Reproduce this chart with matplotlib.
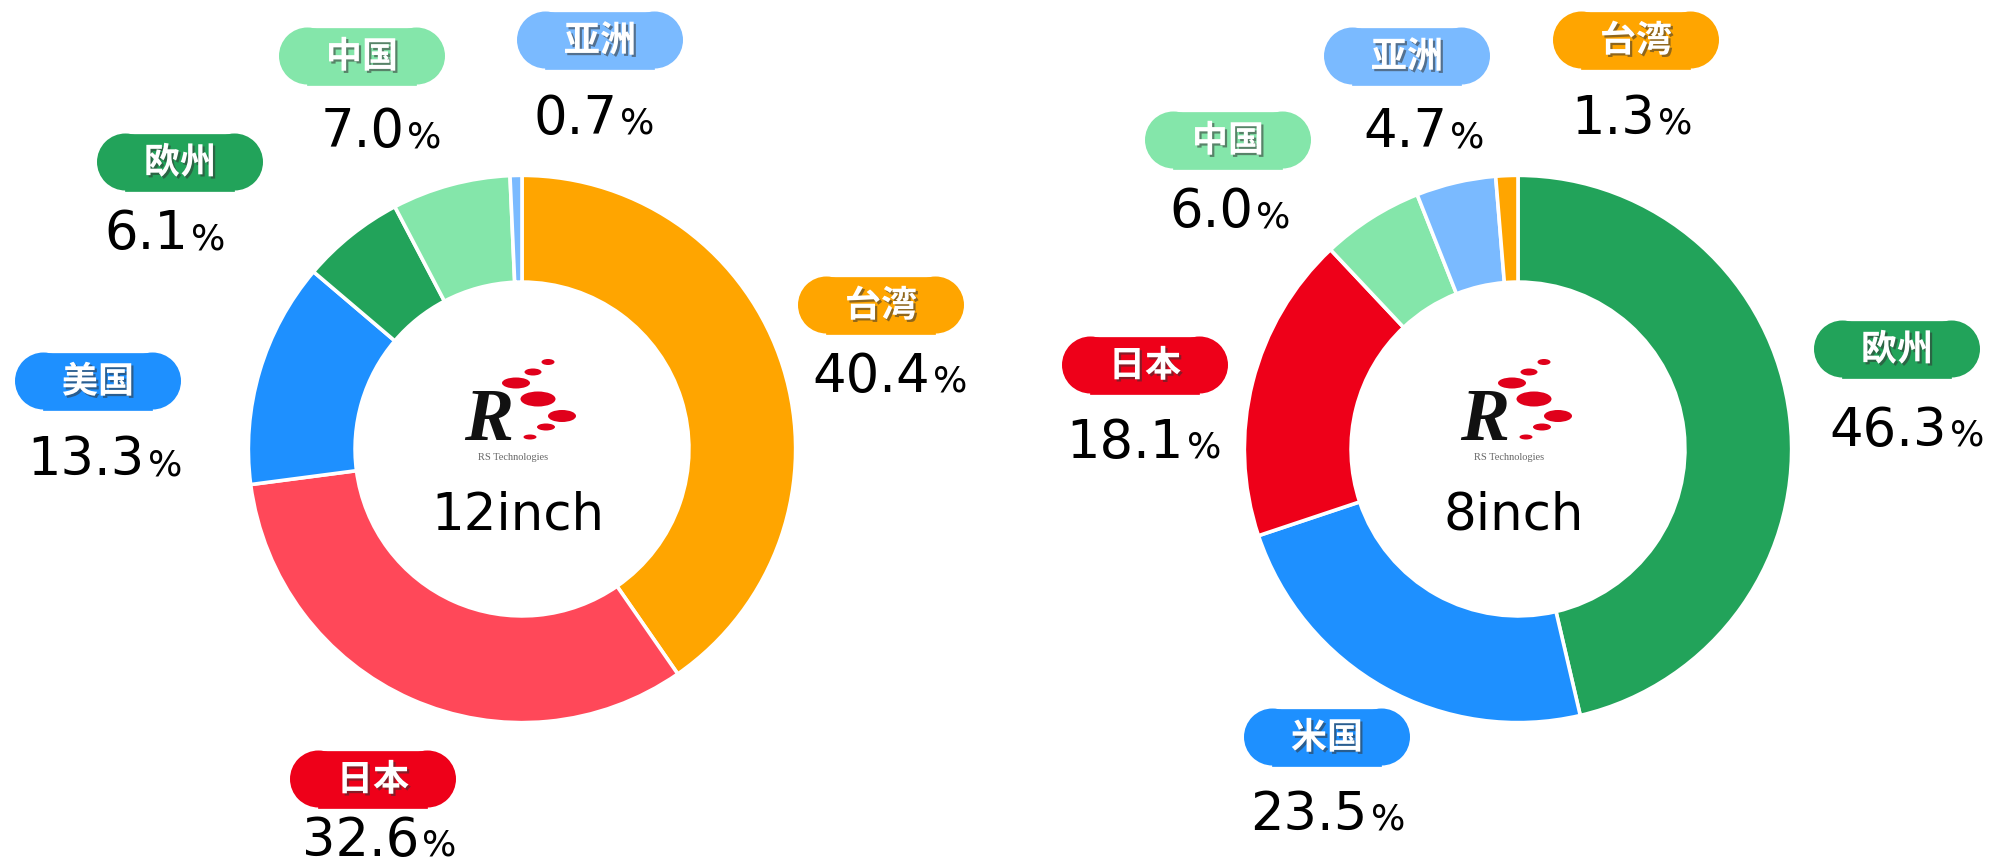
import matplotlib
matplotlib.use("Agg")
import matplotlib.pyplot as plt
from matplotlib.patches import Rectangle, Circle, Ellipse
import matplotlib.patheffects as pe

W, H = 1993, 868
DPI = 100

# ---------------- data ----------------
left_title = "12inch"
left_cats = ["台湾", "日本", "美国", "欧州", "中国", "亚洲"]
left_vals = [40.4, 32.6, 13.3, 6.1, 7.0, 0.7]

right_title = "8inch"
right_cats = ["欧州", "米国", "日本", "中国", "亚洲", "台湾"]
right_vals = [46.3, 23.5, 18.1, 6.0, 4.7, 1.3]

# ---------------- styles ----------------
C_ORANGE = "#FFA500"
C_RED_LIGHT = "#FF4859"
C_RED = "#EE0019"
C_BLUE = "#1E90FF"
C_DGREEN = "#22A35A"
C_LGREEN = "#84E6AA"
C_LBLUE = "#7ABAFF"

left_wedge_colors = [C_ORANGE, C_RED_LIGHT, C_BLUE, C_DGREEN, C_LGREEN, C_LBLUE]
left_pill_colors = [C_ORANGE, C_RED, C_BLUE, C_DGREEN, C_LGREEN, C_LBLUE]
right_wedge_colors = [C_DGREEN, C_BLUE, C_RED, C_LGREEN, C_LBLUE, C_ORANGE]
right_pill_colors = right_wedge_colors

# label positions (pill centre, percent text centre) in pixels
left_pill_pos = [(881, 305), (373, 779), (98, 381), (180, 162), (362, 56), (600, 40)]
left_pct_pos = [(890, 372), (379, 836), (105, 455), (165, 229), (381, 127), (594, 114)]
right_pill_pos = [(1897, 349), (1327, 737), (1145, 365), (1228, 140), (1407, 56), (1636, 40)]
right_pct_pos = [(1907, 426), (1328, 810), (1144, 438), (1230, 207), (1424, 127), (1632, 114)]

CENTERS = [(522, 449), (1518, 449)]
R_PX = 275
RING = 0.39

fig = plt.figure(figsize=(W / DPI, H / DPI), dpi=DPI)
fig.patch.set_facecolor("white")

for (cx, cy), vals, cols in [(CENTERS[0], left_vals, left_wedge_colors),
                             (CENTERS[1], right_vals, right_wedge_colors)]:
    ax = fig.add_axes([(cx - R_PX) / W, (H - cy - R_PX) / H, 2 * R_PX / W, 2 * R_PX / H])
    ax.pie(vals, colors=cols, startangle=90, counterclock=False, radius=1.0,
           wedgeprops=dict(width=RING, edgecolor="white", linewidth=2.6))
    ax.set_xlim(-1.005, 1.005)
    ax.set_ylim(-1.005, 1.005)
    ax.set_aspect("equal")
    ax.axis("off")

# overlay axes in pixel coordinates
ov = fig.add_axes([0, 0, 1, 1])
ov.set_xlim(0, W)
ov.set_ylim(H, 0)
ov.axis("off")
ov.set_zorder(5)
ov.patch.set_alpha(0)

PILL_W, PILL_H = 166, 57
cjk = ["Noto Sans CJK JP", "DejaVu Sans"]
shadow = [pe.SimplePatchShadow(offset=(1.6, -1.6), shadow_rgbFace="#333333", alpha=0.55), pe.Normal()]

pct_pairs = []

def pill(px, py, col):
    r = PILL_H / 2
    ov.add_patch(Rectangle((px - PILL_W / 2 + r, py - r), PILL_W - 2 * r, PILL_H,
                           facecolor=col, edgecolor=col, linewidth=0.5))
    ov.add_patch(Circle((px - PILL_W / 2 + r, py), r, facecolor=col, edgecolor="none"))
    ov.add_patch(Circle((px + PILL_W / 2 - r, py), r, facecolor=col, edgecolor="none"))

def draw_labels(cats, vals, pill_cols, pill_pos, pct_pos):
    for cat, v, col, (px, py), (tx, ty) in zip(cats, vals, pill_cols, pill_pos, pct_pos):
        pill(px, py, col)
        ov.text(px, py + 1, cat, family=cjk, fontsize=26, fontweight="bold",
                color="white", ha="center", va="center", path_effects=shadow)
        t1 = ov.text(tx, ty + 20, f"{v:.1f}", family="DejaVu Sans", fontsize=38,
                     color="black", ha="left", va="baseline")
        t2 = ov.text(tx, ty + 20, "%", family="DejaVu Sans", fontsize=26,
                     color="black", ha="left", va="baseline")
        pct_pairs.append((t1, t2, tx))

draw_labels(left_cats, left_vals, left_pill_colors, left_pill_pos, left_pct_pos)
draw_labels(right_cats, right_vals, right_pill_colors, right_pill_pos, right_pct_pos)

# logos and centre titles
def logo(cx, cy):
    lx, ly = cx - 1, cy - 42
    ov.text(lx - 32, ly + 33, "R", family=["Liberation Serif", "DejaVu Serif"],
            fontsize=53, fontweight="bold", fontstyle="italic", color="#111111",
            ha="center", va="baseline")
    dots = [(27, -45, 13, 6), (12, -35, 17, 7), (-5, -24, 28, 11), (17, -8, 35, 15),
            (41, 9, 28, 12), (25, 20, 18, 7), (9, 30, 13, 5)]
    for dx, dy, w, h in dots:
        ov.add_patch(Ellipse((lx + dx, ly + dy), w, h, facecolor="#E0001B", edgecolor="none"))
    ov.text(lx - 8, ly + 50, "RS Technologies", family=["Liberation Serif", "DejaVu Serif"],
            fontsize=7.5, color="#666666", ha="center", va="center")

for (cx, cy), title in zip(CENTERS, [left_title, right_title]):
    logo(cx, cy)
    ov.text(cx - 4, cy + 66, title, family="DejaVu Sans", fontsize=37,
            color="black", ha="center", va="center")

# centre each percentage group
fig.canvas.draw()
r = fig.canvas.get_renderer()
for t1, t2, tx in pct_pairs:
    w1 = t1.get_window_extent(r).width
    w2 = t2.get_window_extent(r).width
    gap = 3
    total = w1 + w2 + gap
    x0 = tx - total / 2
    t1.set_x(x0)
    t2.set_x(x0 + w1 + gap)

fig.savefig("out.png", dpi=DPI, facecolor="white")
